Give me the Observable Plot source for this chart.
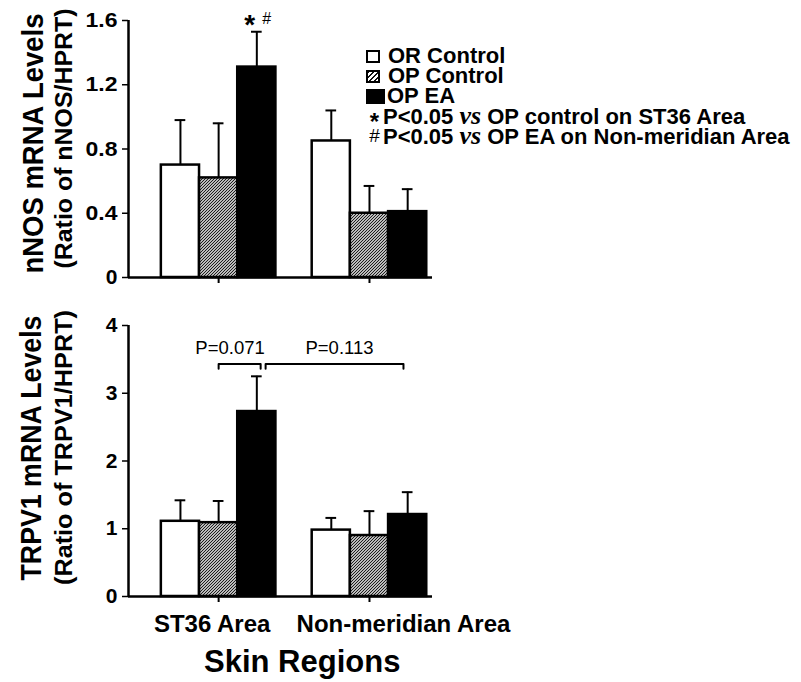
<!DOCTYPE html>
<html>
<head>
<meta charset="utf-8">
<script src="https://cdn.jsdelivr.net/npm/d3@7"></script>
<script src="https://cdn.jsdelivr.net/npm/@observablehq/plot@0.6"></script>
<style>
  body { margin: 0; background: #fff; }
  #root { position: relative; width: 801px; height: 682px; overflow: hidden; background: #fff;
          font-family: "Liberation Sans", Arial, Helvetica, sans-serif; color: #000; }
  .panel { position: absolute; left: 0; }
  #legend { position: absolute; left: 366px; top: 46px; font-weight: bold; font-size: 22px;
            line-height: 20px; white-space: nowrap; }
  #legend .row { display: block; height: 20px; overflow: visible; }
  #legend .sw { display: inline-block; vertical-align: top; box-sizing: border-box; }
  #legend .sym { display: inline-block; width: 17px; height: 20px; line-height: 20px; text-align: center;
                 vertical-align: top; overflow: visible; }
  #legend .vs { font-family: "Liberation Serif", "Times New Roman", serif; font-style: italic; font-size: 26px; }
</style>
</head>
<body>
<div id="root"></div>
<script>
// ---------------- data ----------------
const regions = ["ST36 Area", "Non-meridian Area"];
const groups = ["OR Control", "OP Control", "OP EA"];
const nnosMean = [[0.70, 0.62, 1.31], [0.85, 0.40, 0.41]];
const nnosSem  = [[0.28, 0.34, 0.22], [0.19, 0.17, 0.14]];
const trpv1Mean = [[1.11, 1.09, 2.73], [0.98, 0.90, 1.21]];
const trpv1Sem  = [[0.31, 0.32, 0.52], [0.18, 0.36, 0.33]];
const nnosTicks = [0, 0.4, 0.8, 1.2, 1.6];
const trpv1Ticks = [0, 1, 2, 3, 4];
const nnosSignificance = [{region: "ST36 Area", group: "OP EA", symbols: ["*", "#"]}];
const trpv1Comparisons = [
  {label: "P=0.071", from: ["ST36 Area", "OP Control"], to: ["ST36 Area", "OP EA"]},
  {label: "P=0.113", from: ["ST36 Area", "OP EA"], to: ["Non-meridian Area", "OP EA"]}
];
const legendNotes = [
  {symbol: "*", stat: "P<0.05", vs: "vs", text: "OP control on ST36 Area"},
  {symbol: "#", stat: "P<0.05", vs: "vs", text: "OP EA on Non-meridian Area"}
];
const nnosTitles = ["nNOS mRNA Levels", "(Ratio of nNOS/HPRT)"];
const trpv1Titles = ["TRPV1 mRNA Levels", "(Ratio of TRPV1/HPRT)"];
const xTitle = "Skin Regions";

// ---------------- layout ----------------
const FONT = '"Liberation Sans", Arial, Helvetica, sans-serif';
const STRIDE = 3.95;            // slots between region groups
const XDOM = [-0.86, 7.1];      // slot units
const ri = r => regions.indexOf(r), gi = g => groups.indexOf(g);
const center = (r, g) => ri(r) * STRIDE + gi(g) + 0.5;

function rows(means, sems) {
  return regions.flatMap((region, r) => groups.map((group, g) => ({
    region, group, mean: means[r][g], sem: sems[r][g],
    x1: r * STRIDE + g, x2: r * STRIDE + g + 1, xc: r * STRIDE + g + 0.5
  })));
}

function titleMarks(titles, lay) {
  return titles.map((t, i) => Plot.text([t], {
    frameAnchor: "left", text: d => d, rotate: -90, textAnchor: "middle", lineAnchor: "middle",
    dx: lay[i].dx, dy: lay[i].dy, fontSize: lay[i].size, fontWeight: "bold"
  }));
}

function panel({data, ticks, fmt, yMax, height, marginTop, marginBottom, titles, titleLayout, id, extra}) {
  const svg = Plot.plot({
    width: 801, height, marginLeft: 128, marginRight: 369, marginTop, marginBottom,
    style: {fontFamily: FONT, fontWeight: "bold", fontSize: "20px", background: "transparent", color: "black", overflow: "visible"},
    x: {domain: XDOM},
    y: {domain: [0, yMax]},
    color: {type: "ordinal", domain: groups, range: ["white", `url(#${id})`, "black"]},
    marks: [
      Plot.rectY(data, {x1: "x1", x2: "x2", y1: 0, y2: "mean", fill: "group", stroke: "black", strokeWidth: 2.5}),
      Plot.ruleX(data, {x: "xc", y1: "mean", y2: d => d.mean + d.sem, strokeWidth: 2}),
      Plot.ruleY(data, {y: d => d.mean + d.sem, x1: d => d.xc - 0.14, x2: d => d.xc + 0.14, strokeWidth: 2}),
      Plot.ruleY([0], {strokeWidth: 2.5}),
      Plot.ruleX([XDOM[0]], {strokeWidth: 2.5}),
      Plot.axisY({ticks, tickFormat: () => "", tickSize: 6, strokeWidth: 1.5, label: null}),
      Plot.text(ticks, {frameAnchor: "left", y: d => d, text: fmt, textAnchor: "end", lineAnchor: "middle",
        dx: -11, fontSize: 21, fontWeight: "bold"}),
      Plot.axisX({ticks: regions.map((r, i) => i * STRIDE + 1.5), tickSize: 6, tickFormat: () => "", strokeWidth: 2, label: null}),
      ...titleMarks(titles, titleLayout),
      ...extra
    ]
  });
  const s = d3.select(svg);
  s.insert("defs", ":first-child").html(
    `<pattern id="${id}" patternUnits="userSpaceOnUse" width="3" height="3">
       <rect width="3" height="3" fill="#fff"/>
       <path d="M-1,1 L1,-1 M0,3 L3,0 M2,4 L4,2" stroke="#111" stroke-width="1.1"/>
     </pattern>`);
  // y tick labels: slightly wide like the reference
  const tickStrings = ticks.map(fmt).filter(t => t.length > 1);
  s.selectAll("text").filter(function () { return tickStrings.includes(this.textContent.trim()); })
    .attr("textLength", 32).attr("lengthAdjust", "spacingAndGlyphs");
  // rotated titles: fit to the reference length
  titles.forEach((t, i) => {
    s.selectAll("text").filter(function () { return this.textContent === t; })
      .attr("textLength", titleLayout[i].len).attr("lengthAdjust", "spacingAndGlyphs");
  });
  return svg;
}

const root = document.getElementById("root");

// ---------- top panel: nNOS ----------
const nnosData = rows(nnosMean, nnosSem);
const topOf = (data, r, g) => { const d = data.find(v => v.region === r && v.group === g); return d.mean + d.sem; };
const topPanel = panel({
  data: nnosData, ticks: nnosTicks, fmt: d => d === 0 ? "0" : d.toFixed(1), yMax: 1.6,
  height: 300, marginTop: 20, marginBottom: 23, id: "hatch-nnos",
  titles: nnosTitles,
  titleLayout: [{dx: -94.5, dy: -5.5, size: 29, len: 260}, {dx: -64, dy: -10.5, size: 23, len: 260}],
  extra: [
    Plot.text(nnosSignificance, {x: d => center(d.region, d.group), y: d => topOf(nnosData, d.region, d.group),
      text: d => d.symbols[0], dx: -7, dy: -7, fontSize: 28, fontWeight: "bold"}),
    Plot.text(nnosSignificance, {x: d => center(d.region, d.group), y: d => topOf(nnosData, d.region, d.group),
      text: d => d.symbols[1], dx: 10, dy: -13, fontSize: 16, fontWeight: "normal"})
  ]
});
topPanel.classList.add("panel"); topPanel.style.top = "0px";
root.appendChild(topPanel);

// ---------- bottom panel: TRPV1 ----------
const trpv1Data = rows(trpv1Mean, trpv1Sem);
const BR_Y = 3.43, BR_TIP = 3.36;
const brEnds = [[0, 0.1], [0.23, -0.11]];
const brLabelShift = [-0.25, 0.13];
const brLines = trpv1Comparisons.flatMap((c, i) => {
  const xa = center(...c.from) + brEnds[i][0], xb = center(...c.to) + brEnds[i][1];
  return [{i, x: xa, y: BR_TIP}, {i, x: xa, y: BR_Y}, {i, x: xb, y: BR_Y}, {i, x: xb, y: BR_TIP}];
});
const xLabelShift = [-0.17, 0.89];

const bottomPanel = panel({
  data: trpv1Data, ticks: trpv1Ticks, fmt: d => String(d), yMax: 4,
  height: 382, marginTop: 25, marginBottom: 86, id: "hatch-trpv1",
  titles: trpv1Titles,
  titleLayout: [{dx: -97, dy: -13, size: 29, len: 265}, {dx: -64, dy: -13.5, size: 23, len: 275}],
  extra: [
    Plot.line(brLines, {x: "x", y: "y", z: "i", strokeWidth: 2}),
    Plot.text(trpv1Comparisons, {
      x: (c, i) => (center(...c.from) + brEnds[i][0] + center(...c.to) + brEnds[i][1]) / 2 + brLabelShift[i],
      y: BR_Y, text: "label", lineAnchor: "bottom", dy: -10, fontSize: 18.5, fontWeight: "normal"}),
    Plot.text(regions, {x: (r, i) => i * STRIDE + 1.5 + xLabelShift[i], y: 0, text: d => d,
      lineAnchor: "bottom", dy: 35.7, fontSize: 24, fontWeight: "bold"}),
    Plot.text([xTitle], {frameAnchor: "bottom", text: d => d, lineAnchor: "bottom", dx: 21.7, dy: 75.7,
      fontSize: 31, fontWeight: "bold"})
  ]
});
bottomPanel.classList.add("panel"); bottomPanel.style.top = "300px";
root.appendChild(bottomPanel);

// ---------- legend ----------
const legend = document.createElement("div");
legend.id = "legend";
const swatchStyles = [
  "width:14px;height:13px;border:2px solid #000;background:#fff;margin-top:4px;margin-right:8px;",
  "width:14px;height:13px;border:2px solid #000;background:repeating-linear-gradient(135deg,#111 0 1.2px,#fff 1.2px 3.4px);margin-top:4px;margin-right:8px;",
  "width:19px;height:15px;background:#000;margin-top:3px;margin-right:2px;"
];
groups.forEach((g, i) => {
  const row = document.createElement("div"); row.className = "row";
  const sw = document.createElement("span"); sw.className = "sw"; sw.style.cssText = swatchStyles[i];
  row.appendChild(sw); row.appendChild(document.createTextNode(g));
  legend.appendChild(row);
});
const symStyles = ["font-size:24px;padding-top:6px;height:14px;", "font-size:19px;font-weight:normal;"];
legendNotes.forEach((n, i) => {
  const row = document.createElement("div"); row.className = "row";
  const sym = document.createElement("span"); sym.className = "sym"; sym.style.cssText = symStyles[i];
  sym.textContent = n.symbol;
  const vs = document.createElement("span"); vs.className = "vs"; vs.textContent = n.vs;
  row.appendChild(sym);
  row.appendChild(document.createTextNode(n.stat + " "));
  row.appendChild(vs);
  row.appendChild(document.createTextNode(" " + n.text));
  legend.appendChild(row);
});
root.appendChild(legend);
</script>
</body>
</html>
